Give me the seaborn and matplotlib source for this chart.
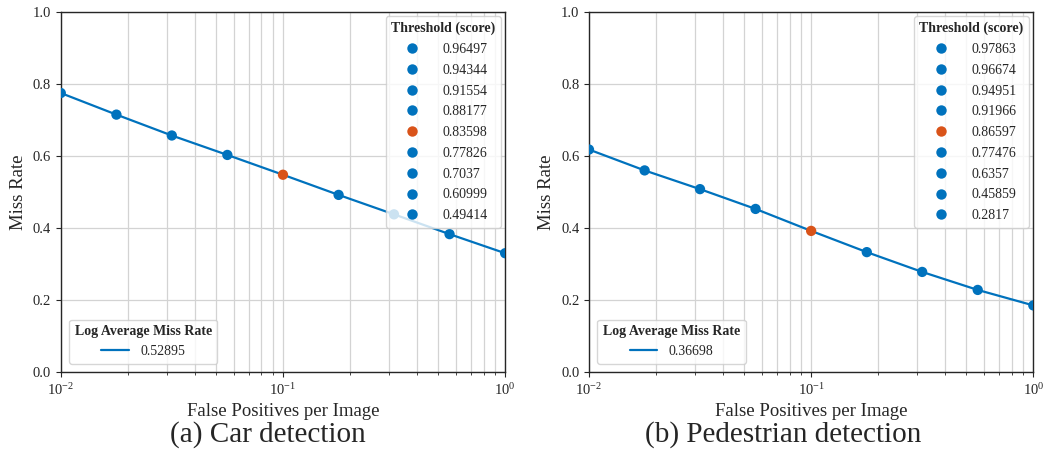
import numpy as np
import pandas as pd
import seaborn as sns
import matplotlib
matplotlib.use("Agg")
import matplotlib.pyplot as plt
from matplotlib.lines import Line2D

# ---- data ----
fppi = [0.01, 0.0178, 0.0316, 0.0562, 0.1, 0.178, 0.316, 0.562, 1.0]
car_miss = [0.775, 0.715, 0.657, 0.603, 0.548, 0.492, 0.438, 0.383, 0.330]
car_thr = ["0.96497", "0.94344", "0.91554", "0.88177", "0.83598",
           "0.77826", "0.7037", "0.60999", "0.49414"]
car_lamr = "0.52895"
ped_miss = [0.618, 0.560, 0.508, 0.453, 0.392, 0.333, 0.278, 0.228, 0.185]
ped_thr = ["0.97863", "0.96674", "0.94951", "0.91966", "0.86597",
           "0.77476", "0.6357", "0.45859", "0.2817"]
ped_lamr = "0.36698"
highlight_idx = 4
captions = ["(a) Car detection", "(b) Pedestrian detection"]

BLUE = "#0072BD"
ORANGE = "#D95319"

sns.set_style("ticks")
plt.rcParams["font.family"] = ["Liberation Serif", "DejaVu Serif"]
plt.rcParams["mathtext.fontset"] = "dejavuserif"

fig = plt.figure(figsize=(10.48, 4.66), dpi=100)
axes = [fig.add_axes([0.058, 0.2017, 0.424, 0.7725]),
        fig.add_axes([0.562, 0.2017, 0.424, 0.7725])]
cap_x = [0.256, 0.747]

for ax, miss, thr, lamr, cap, cx in zip(axes, [car_miss, ped_miss], [car_thr, ped_thr],
                                         [car_lamr, ped_lamr], captions, cap_x):
    df = pd.DataFrame({"fppi": fppi, "miss": miss, "thr": thr})
    colors = [ORANGE if i == highlight_idx else BLUE for i in range(len(thr))]
    pal = dict(zip(thr, colors))
    sns.lineplot(data=df, x="fppi", y="miss", ax=ax, color=BLUE, lw=1.6,
                 legend=False, zorder=2)
    sns.scatterplot(data=df, x="fppi", y="miss", hue="thr", hue_order=thr,
                    palette=pal, ax=ax, s=55, edgecolor="none", legend=False,
                    zorder=3)
    ax.set_xscale("log")
    ax.set_xlim(0.01, 1.0)
    ax.set_ylim(0, 1.0)
    ax.set_yticks([0, 0.2, 0.4, 0.6, 0.8, 1.0])
    ax.set_yticklabels(["0.0", "0.2", "0.4", "0.6", "0.8", "1.0"])
    ax.grid(True, which="major", color="#d3d3d3", lw=0.9)
    ax.grid(True, which="minor", axis="x", color="#d3d3d3", lw=0.9)
    ax.tick_params(which="both", labelsize=10.5, direction="out")
    ax.set_xlabel("False Positives per Image", fontsize=13.5)
    ax.set_ylabel("Miss Rate", fontsize=13.5)
    for s in ax.spines.values():
        s.set_linewidth(1.0)

    h1 = [Line2D([], [], ls="none", marker="o", ms=7.5, color=c, mec="none")
          for c in colors]
    leg1 = ax.legend(h1, thr, title="Threshold (score)", loc="upper right",
                     fontsize=10, title_fontproperties={"weight": "bold", "size": 10},
                     borderaxespad=0.3, labelspacing=0.56, handletextpad=1.2)
    ax.add_artist(leg1)
    h2 = [Line2D([], [], color=BLUE, lw=1.6)]
    ax.legend(h2, [lamr], title="Log Average Miss Rate", loc="lower left",
              fontsize=10, title_fontproperties={"weight": "bold", "size": 10},
              borderaxespad=0.6, bbox_to_anchor=(0.0, 0.0))
    fig.text(cx, 0.068, cap, ha="center", va="center", fontsize=21)

fig.savefig("out.png", dpi=100)
